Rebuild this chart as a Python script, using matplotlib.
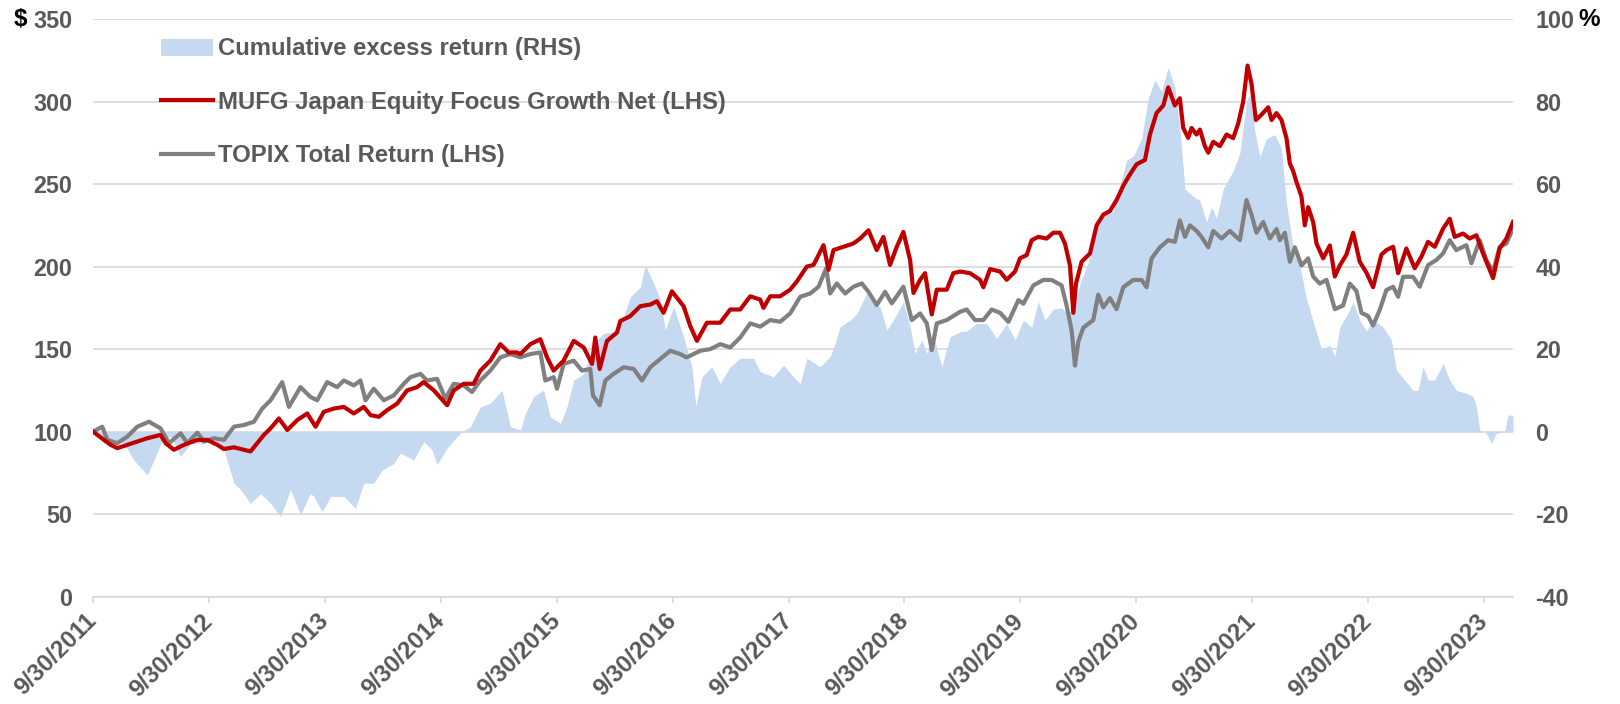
import matplotlib
matplotlib.use('Agg')
import matplotlib.pyplot as plt
from matplotlib.patches import Patch

plt.rcParams['font.family'] = ['Liberation Sans', 'DejaVu Sans']
plt.rcParams['font.weight'] = 'bold'
plt.rcParams['axes.unicode_minus'] = False

# values, (decimal year, value)
mufg = [
    (2011.750, 100), (2011.845, 95), (2011.902, 92), (2011.960, 90), (2012.046, 92),
    (2012.132, 94), (2012.218, 96), (2012.333, 98), (2012.377, 93), (2012.448, 89),
    (2012.535, 92), (2012.650, 95), (2012.736, 95), (2012.822, 92), (2012.879, 89.5),
    (2012.966, 90.5), (2013.023, 89.5), (2013.109, 88), (2013.167, 93), (2013.224, 98),
    (2013.282, 102), (2013.354, 108), (2013.426, 101), (2013.512, 107), (2013.598, 111),
    (2013.670, 103), (2013.741, 112), (2013.828, 114), (2013.914, 115), (2014.000, 111),
    (2014.086, 115), (2014.144, 110), (2014.216, 109), (2014.287, 113), (2014.374, 117),
    (2014.460, 125), (2014.546, 127), (2014.603, 130), (2014.690, 125), (2014.805, 116),
    (2014.862, 125), (2014.948, 129), (2015.034, 129), (2015.092, 137), (2015.178, 143),
    (2015.264, 153), (2015.336, 148), (2015.408, 148), (2015.437, 147), (2015.523, 153),
    (2015.609, 156), (2015.667, 145), (2015.724, 137), (2015.810, 143), (2015.897, 155),
    (2015.983, 151), (2016.055, 141), (2016.083, 157), (2016.121, 138), (2016.184, 155),
    (2016.270, 160), (2016.299, 167), (2016.385, 170), (2016.471, 176), (2016.557, 177),
    (2016.615, 179), (2016.672, 172), (2016.744, 185), (2016.845, 176), (2016.902, 164),
    (2016.960, 155), (2017.046, 166), (2017.161, 166), (2017.247, 174), (2017.333, 174),
    (2017.420, 182), (2017.506, 180), (2017.534, 175), (2017.592, 182), (2017.678, 182),
    (2017.764, 186), (2017.822, 191), (2017.908, 200), (2017.966, 201), (2018.052, 213),
    (2018.095, 198), (2018.138, 210), (2018.224, 212), (2018.310, 214), (2018.368, 217),
    (2018.440, 222), (2018.511, 210), (2018.569, 218), (2018.626, 201), (2018.684, 212),
    (2018.741, 221), (2018.799, 204), (2018.828, 184), (2018.885, 192), (2018.928, 196),
    (2018.986, 171), (2019.029, 186), (2019.115, 186), (2019.172, 196), (2019.230, 197),
    (2019.316, 196), (2019.402, 192), (2019.431, 187.5), (2019.489, 198.5), (2019.575, 197),
    (2019.632, 192), (2019.704, 197), (2019.747, 205), (2019.805, 207), (2019.848, 216),
    (2019.905, 218), (2019.977, 217), (2020.034, 220.5), (2020.092, 220.5), (2020.135, 214),
    (2020.178, 200.7), (2020.207, 172), (2020.230, 189.7), (2020.279, 203), (2020.351, 208),
    (2020.408, 225), (2020.466, 231.5), (2020.523, 233.7), (2020.580, 240.3), (2020.638, 249),
    (2020.695, 255.8), (2020.753, 262), (2020.825, 264.6), (2020.868, 280), (2020.925, 293),
    (2020.983, 297.6), (2021.026, 308.6), (2021.083, 297.6), (2021.126, 302), (2021.155, 284),
    (2021.198, 278), (2021.227, 284), (2021.270, 280), (2021.299, 283), (2021.342, 273),
    (2021.371, 269), (2021.414, 275.6), (2021.471, 273), (2021.529, 280), (2021.586, 277.8),
    (2021.629, 286.6), (2021.672, 299.8), (2021.710, 321.8), (2021.744, 310.8), (2021.782, 288.8),
    (2021.830, 292), (2021.888, 296.5), (2021.917, 288.8), (2021.960, 293), (2022.003, 288.8),
    (2022.046, 277.8), (2022.075, 262.4), (2022.103, 258), (2022.132, 251.3), (2022.175, 242.5),
    (2022.204, 225), (2022.233, 236), (2022.276, 227), (2022.305, 214), (2022.362, 205),
    (2022.420, 212.8), (2022.463, 194), (2022.506, 200.7), (2022.563, 207.3), (2022.621, 220.5),
    (2022.678, 202.9), (2022.736, 196.3), (2022.793, 187.5), (2022.865, 207.3), (2022.908, 210),
    (2022.966, 212), (2023.009, 196), (2023.080, 211), (2023.152, 199), (2023.210, 206),
    (2023.267, 215), (2023.325, 212), (2023.397, 223), (2023.454, 229), (2023.497, 218),
    (2023.569, 220), (2023.626, 217), (2023.684, 219), (2023.741, 208), (2023.828, 193),
    (2023.885, 211), (2023.943, 217), (2024.000, 227),
]

topix = [
    (2011.750, 100), (2011.830, 103), (2011.874, 95), (2011.960, 93), (2012.046, 97),
    (2012.132, 103), (2012.233, 106), (2012.333, 102), (2012.405, 93), (2012.506, 99),
    (2012.563, 93), (2012.650, 99.4), (2012.707, 94), (2012.793, 96), (2012.879, 95),
    (2012.966, 103), (2013.052, 104), (2013.138, 106), (2013.210, 114), (2013.282, 119),
    (2013.382, 130), (2013.440, 115), (2013.540, 127), (2013.626, 121), (2013.684, 119),
    (2013.770, 130), (2013.856, 127), (2013.914, 131), (2014.000, 128), (2014.057, 131),
    (2014.101, 119), (2014.172, 126), (2014.259, 119), (2014.345, 122), (2014.431, 129),
    (2014.489, 133), (2014.575, 135), (2014.632, 131), (2014.718, 132), (2014.790, 120),
    (2014.862, 129), (2014.948, 128), (2015.020, 124), (2015.092, 131), (2015.178, 137),
    (2015.264, 145), (2015.351, 147), (2015.437, 145), (2015.523, 147), (2015.609, 148),
    (2015.652, 131), (2015.724, 133), (2015.753, 126), (2015.810, 141), (2015.897, 143),
    (2015.968, 137), (2016.040, 138), (2016.063, 122), (2016.121, 116), (2016.170, 131),
    (2016.241, 135), (2016.328, 139), (2016.414, 138), (2016.486, 131), (2016.557, 139),
    (2016.644, 144), (2016.730, 149), (2016.816, 147), (2016.868, 145), (2016.902, 146),
    (2016.989, 149), (2017.075, 150), (2017.161, 153), (2017.247, 151), (2017.333, 157),
    (2017.420, 165.6), (2017.506, 163.6), (2017.592, 167.6), (2017.678, 166.6), (2017.764, 171.6),
    (2017.851, 181.7), (2017.937, 183.7), (2018.009, 187.8), (2018.075, 198.9), (2018.109, 183.7),
    (2018.167, 189.8), (2018.239, 183.7), (2018.310, 187.8), (2018.382, 189.8), (2018.440, 184.7),
    (2018.511, 176.7), (2018.583, 184.7), (2018.641, 177.7), (2018.741, 187.8), (2018.813, 167.6),
    (2018.885, 171.6), (2018.943, 165.6), (2018.986, 149.4), (2019.029, 165.6), (2019.115, 167.6),
    (2019.230, 172.6), (2019.287, 174), (2019.359, 167.6), (2019.431, 167.6), (2019.503, 174),
    (2019.575, 172), (2019.647, 166.5), (2019.733, 179.7), (2019.776, 177.5), (2019.862, 188.6),
    (2019.948, 191.9), (2020.020, 191.9), (2020.106, 188.6), (2020.149, 176.4), (2020.193, 161),
    (2020.221, 140), (2020.250, 154.4), (2020.293, 163), (2020.379, 167.6), (2020.422, 183),
    (2020.466, 175.3), (2020.523, 180.9), (2020.580, 174.2), (2020.638, 187.5), (2020.724, 191.9),
    (2020.796, 191.9), (2020.839, 187.5), (2020.882, 205), (2020.954, 211.7), (2021.026, 216),
    (2021.083, 215), (2021.126, 228), (2021.170, 218), (2021.213, 225), (2021.270, 221.6),
    (2021.313, 218), (2021.371, 211.7), (2021.414, 221.6), (2021.486, 217), (2021.557, 221.6),
    (2021.644, 216), (2021.701, 240.3), (2021.744, 231.5), (2021.787, 220.5), (2021.845, 227),
    (2021.902, 217), (2021.960, 222.7), (2021.989, 216), (2022.032, 220.5), (2022.075, 202.9),
    (2022.118, 211.7), (2022.175, 200.7), (2022.233, 205), (2022.276, 194), (2022.333, 189.7),
    (2022.391, 192), (2022.463, 174.2), (2022.534, 176.4), (2022.592, 189.7), (2022.649, 185.3),
    (2022.693, 172), (2022.750, 170), (2022.793, 164.3), (2022.850, 173.7), (2022.908, 185.8),
    (2022.966, 187.8), (2023.009, 181.7), (2023.052, 193.8), (2023.138, 193.8), (2023.195, 187.8),
    (2023.267, 200.9), (2023.339, 204), (2023.397, 208), (2023.454, 216), (2023.511, 210),
    (2023.598, 213), (2023.641, 202), (2023.713, 216), (2023.770, 204), (2023.828, 197),
    (2023.885, 212), (2023.943, 214), (2024.000, 223),
]

excess = [
    (2011.750, 0), (2011.845, -2.8), (2011.931, -2), (2012.017, -2.8), (2012.103, -6.9),
    (2012.218, -10.5), (2012.276, -6.9), (2012.348, -2), (2012.420, -1.2), (2012.506, -6),
    (2012.592, -2.8), (2012.707, -2.8), (2012.793, -2), (2012.879, -4.4), (2012.966, -12.5),
    (2013.023, -14), (2013.109, -17.4), (2013.195, -15), (2013.282, -17.4), (2013.368, -20.6),
    (2013.454, -14), (2013.540, -20), (2013.626, -15), (2013.655, -15.7), (2013.727, -19.4),
    (2013.799, -15.7), (2013.914, -15.7), (2014.014, -18.6), (2014.086, -12.5), (2014.172, -12.5),
    (2014.244, -9.3), (2014.345, -7.7), (2014.402, -5.2), (2014.517, -6.9), (2014.603, -2.4),
    (2014.675, -4.4), (2014.718, -8), (2014.805, -4), (2014.891, -1.2), (2014.934, 0),
    (2015.006, 1.2), (2015.092, 6), (2015.178, 6.9), (2015.279, 10), (2015.351, 1.2),
    (2015.437, 0.4), (2015.480, 4.4), (2015.552, 8.5), (2015.638, 10.1), (2015.695, 3.6),
    (2015.782, 2), (2015.839, 6), (2015.897, 12.5), (2015.983, 14), (2016.069, 21.4),
    (2016.155, 23.8), (2016.241, 24.2), (2016.328, 27.8), (2016.385, 32.7), (2016.471, 35),
    (2016.514, 40.4), (2016.586, 36), (2016.644, 32), (2016.687, 24.6), (2016.759, 30.3),
    (2016.845, 23), (2016.917, 15.7), (2016.951, 6), (2017.003, 13.3), (2017.089, 15.7),
    (2017.161, 11.7), (2017.247, 15.7), (2017.333, 17.8), (2017.448, 17.8), (2017.506, 14.5),
    (2017.621, 13.3), (2017.707, 16.1), (2017.793, 13.3), (2017.851, 11.7), (2017.908, 17.8),
    (2018.023, 15.7), (2018.109, 18.2), (2018.138, 20.2), (2018.195, 25.4), (2018.282, 27),
    (2018.339, 28.6), (2018.425, 33.5), (2018.483, 31), (2018.540, 30.3), (2018.598, 24.6),
    (2018.655, 27), (2018.741, 31.5), (2018.799, 25.4), (2018.842, 19), (2018.899, 22.2),
    (2018.943, 19), (2019.000, 23.4), (2019.072, 15.7), (2019.144, 23), (2019.230, 24.2),
    (2019.287, 24.4), (2019.374, 26.2), (2019.460, 26.2), (2019.546, 22.6), (2019.632, 26.2),
    (2019.704, 22.2), (2019.776, 27), (2019.848, 25.3), (2019.905, 31.5), (2019.963, 27),
    (2020.034, 29.7), (2020.106, 30), (2020.149, 28.8), (2020.207, 29.7), (2020.264, 35.9),
    (2020.336, 41), (2020.408, 50.8), (2020.466, 52.6), (2020.552, 53.5), (2020.609, 59.6),
    (2020.667, 65.8), (2020.724, 66.7), (2020.796, 71), (2020.853, 80.8), (2020.911, 85.2),
    (2020.968, 82.5), (2021.026, 88.3), (2021.083, 83.4), (2021.126, 73.7), (2021.170, 58.8),
    (2021.241, 57), (2021.299, 56), (2021.356, 50.8), (2021.399, 54.4), (2021.443, 51.7),
    (2021.500, 58.8), (2021.586, 63.2), (2021.644, 67.6), (2021.701, 80), (2021.730, 81.7),
    (2021.773, 72.9), (2021.816, 66.7), (2021.874, 71), (2021.945, 72), (2022.003, 68.5),
    (2022.046, 55.2), (2022.103, 44.7), (2022.161, 40.3), (2022.218, 32.3), (2022.290, 25.3),
    (2022.348, 20), (2022.420, 20.9), (2022.463, 18.2), (2022.506, 25.3), (2022.578, 28.8),
    (2022.621, 31.5), (2022.678, 27), (2022.736, 24.4), (2022.793, 27), (2022.879, 25.4),
    (2022.951, 22.2), (2022.994, 15), (2023.066, 12.5), (2023.138, 10), (2023.181, 10),
    (2023.224, 15.7), (2023.267, 12.5), (2023.325, 12.5), (2023.397, 16.5), (2023.454, 12.5),
    (2023.511, 10), (2023.598, 9.3), (2023.655, 8.5), (2023.684, 6), (2023.713, 0.4),
    (2023.770, -0.4), (2023.813, -2.8), (2023.856, -0.4), (2023.928, 0), (2023.957, 4),
    (2024.000, 4),
]

tick_years = list(range(2011, 2024))
tick_labels = [f"9/30/{y}" for y in tick_years]

RED = '#C00000'
GREY = '#808080'
BLUE = '#C5D9F1'
TXT = '#595959'
GRID = '#D9D9D9'

W, H = 1620, 704
fig = plt.figure(figsize=(W / 100, H / 100), dpi=100)
ax = fig.add_axes([93 / W, 1 - 596.7 / H, (1513 - 93) / W, (596.7 - 19) / H])
ax2 = ax.twinx()
ax.set_zorder(ax2.get_zorder() + 1)
ax.patch.set_visible(False)

ex_x, ex_y = zip(*excess)
ax2.fill_between(ex_x, 0, ex_y, color=BLUE, lw=0, zorder=2)
ax2.set_ylim(-40, 100)
ax2.set_yticks(range(-40, 101, 20))
ax2.grid(axis='y', color=GRID, lw=1.2)
ax2.set_axisbelow(True)

tx, ty = zip(*topix)
mx, my = zip(*mufg)
ax.plot(tx, ty, color=GREY, lw=3.0, solid_joinstyle='round')
ax.plot(mx, my, color=RED, lw=3.0, solid_joinstyle='round')
ax.set_ylim(0, 350)
ax.set_yticks(range(0, 351, 50))
ax.set_xlim(2011.75, 2024.0)
ax.set_xticks([y + 0.75 for y in tick_years])
ax.set_xticklabels(tick_labels)

for a in (ax, ax2):
    for s in a.spines.values():
        s.set_visible(False)
ax.spines['bottom'].set_visible(True)
ax.spines['bottom'].set_color(GRID)
ax.spines['bottom'].set_linewidth(1.2)

fs = 16.8
ax.tick_params(axis='y', length=0, pad=15, labelsize=fs, labelcolor=TXT)
ax2.tick_params(axis='y', length=0, pad=16, labelsize=fs, labelcolor=TXT)
ax.tick_params(axis='x', length=4, width=1.2, color=GRID, pad=11,
               labelsize=17.2, labelcolor=TXT)
for lab in ax.get_xticklabels():
    lab.set_rotation(45)
    lab.set_ha('right')
    lab.set_va('center')
    lab.set_rotation_mode('anchor')

fig.text(20.3 / W, 1 - 20 / H, '$', fontsize=17.5, color='black', ha='center', va='center')
fig.text(1589 / W, 1 - 20 / H, '%', fontsize=17.5, color='black', ha='center', va='center')

handles = [Patch(color=BLUE, lw=0),
           plt.Line2D([], [], color=RED, lw=3.0),
           plt.Line2D([], [], color=GREY, lw=3.0)]
labels = ['Cumulative excess return (RHS)',
          'MUFG Japan Equity Focus Growth Net (LHS)',
          'TOPIX Total Return (LHS)']
leg = ax.legend(handles, labels, loc='upper left', frameon=False,
                bbox_to_anchor=(161 / W, 1 - 37.5 / H), bbox_transform=fig.transFigure,
                borderpad=0, borderaxespad=0, handlelength=2.16, handletextpad=0.23,
                labelspacing=1.27, fontsize=17.2)
for t in leg.get_texts():
    t.set_color(TXT)

fig.savefig('out.png', dpi=100)
plt.close('all')
